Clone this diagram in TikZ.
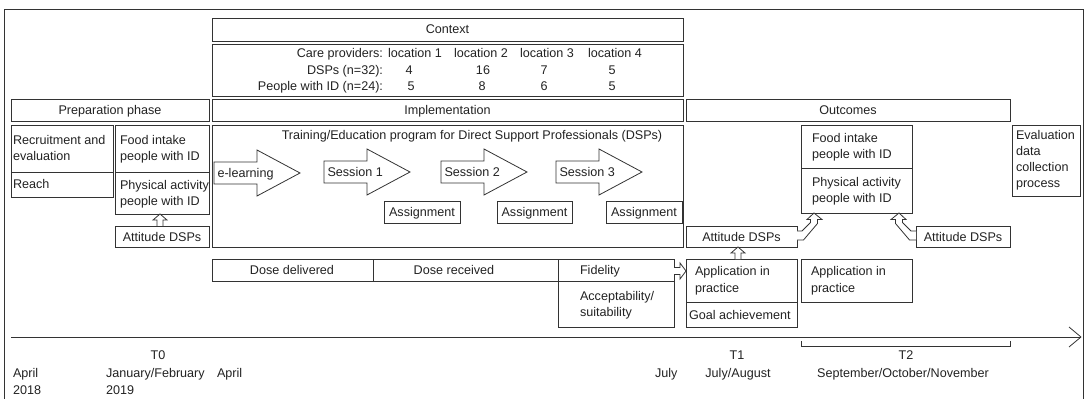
\documentclass[tikz,border=0pt]{standalone}
\usepackage{fontspec}
\setmainfont{Liberation Sans}
\usetikzlibrary{calc}
\definecolor{ln}{HTML}{333333}
\definecolor{tc}{HTML}{222222}
\tikzset{
 rb/.style={draw=ln, line width=0.6pt, rectangle, inner sep=0pt, outer sep=0pt},
 tx/.style={text=tc, inner sep=0pt, outer sep=0pt, font=\fontsize{9.45}{11}\selectfont},
 hol/.style={draw=ln, line width=0.6pt, fill=white, line join=miter},
 tline/.style={draw=ln, line width=0.6pt},
}
\newcommand\mkbox[5]{\node[rb, minimum width={(#4-#2)*0.75pt}, minimum height={(#5-#3)*0.75pt}] (#1) at ({(#2+#4)/2},{(#3+#5)/2}) {};}
\newcommand\txl[4]{\node[tx, anchor=base west] (#1) at (#2,{#3+4.5}) {#4};}
\newcommand\txc[4]{\node[tx, anchor=base] (#1) at (#2,{#3+4.5}) {#4};}
\newcommand\txr[4]{\node[tx, anchor=base east] (#1) at (#2,{#3+4.5}) {#4};}
\newcommand\barrow[4]{%
 \draw[hol] (#2,{#3-11}) -- ++(43,0) -- ++(0,-12) -- ++(43,23) -- ++(-43,23) -- ++(0,-12) -- ++(-43,0) -- cycle;
 \node[tx, anchor=base west] (#1) at ({#2+3.5},{#3+4.5}) {#4};}
\begin{document}
\begin{tikzpicture}[x=0.75pt,y=-0.75pt]
\useasboundingbox (0,0) rectangle (1089,399);
% outer frame
\draw[tline] (4,399) -- (4,9) -- (1083,9) -- (1083,399);

% context
\mkbox{ctx}{212}{18}{683}{41}
\txc{ctxT}{447.5}{29}{Context}
\mkbox{tab}{212}{44}{683}{96}
\txr{r1}{383}{53}{Care providers:}
\txr{r2}{383}{70}{DSPs (n=32):}
\txr{r3}{383}{86}{People with ID (n=24):}
\txc{l1}{415}{53}{location 1}
\txc{l2}{481}{53}{location 2}
\txc{l3}{547}{53}{location 3}
\txc{l4}{615}{53}{location 4}
\txc{d1}{409}{70}{4}
\txc{d2}{483}{70}{16}
\txc{d3}{544}{70}{7}
\txc{d4}{612}{70}{5}
\txc{p1}{411}{86}{5}
\txc{p2}{482}{86}{8}
\txc{p3}{544}{86}{6}
\txc{p4}{612}{86}{5}

% headers
\mkbox{prep}{11}{99}{209}{121}
\txc{prepT}{110}{110}{Preparation phase}
\mkbox{impl}{212}{99}{683}{121}
\txc{implT}{447.5}{110}{Implementation}
\mkbox{outc}{686}{99}{1010}{121}
\txc{outcT}{848}{110}{Outcomes}

% preparation
\mkbox{rec}{11}{125}{113}{172}
\txl{recT1}{13}{140}{Recruitment and}
\txl{recT2}{13}{156}{evaluation}
\mkbox{reach}{11}{172}{113}{197}
\txl{reachT}{13}{184}{Reach}
\mkbox{foodL}{115}{125}{209}{172}
\txl{foodLT1}{120}{140}{Food intake}
\txl{foodLT2}{120}{156}{people with ID}
\mkbox{physL}{115}{172}{209}{214}
\txl{physLT1}{120}{185}{Physical activity}
\txl{physLT2}{120}{201}{people with ID}
\mkbox{attL}{115}{226}{209}{247}
\txc{attLT}{162}{237}{Attitude DSPs}
\draw[hol] ($(attL.north)+(-5,0)$) -- ++(0,-6) -- ++(-4,0) -- ++(7,-6) -- ++(7,6) -- ++(-4,0) -- ++(0,6);

% implementation
\mkbox{prog}{212}{125}{683}{247}
\txc{progT}{472}{135}{Training/Education program for Direct Support Professionals (DSPs)}
\barrow{el}{214}{173}{e-learning}
\barrow{s1}{324}{172}{Session 1}
\barrow{s2}{441}{172}{Session 2}
\barrow{s3}{556}{172}{Session 3}
\mkbox{as1}{384}{201}{460}{223}
\txc{as1T}{422}{212}{Assignment}
\mkbox{as2}{497}{201}{572}{223}
\txc{as2T}{534.5}{212}{Assignment}
\mkbox{as3}{606}{201}{682}{223}
\txc{as3T}{644}{212}{Assignment}

% process evaluation
\mkbox{dd}{212}{259}{373}{281}
\txc{ddT}{292}{270}{Dose delivered}
\mkbox{dr}{373}{259}{558}{281}
\txc{drT}{454}{270}{Dose received}
\mkbox{fid}{558}{259}{674}{281}
\txl{fidT}{580}{270}{Fidelity}
\mkbox{acc}{558}{281}{674}{327}
\txl{accT1}{580}{296}{Acceptability/}
\txl{accT2}{580}{312}{suitability}

% outcomes T1
\mkbox{attA}{686}{226}{797}{247}
\txc{attAT}{741.5}{237}{Attitude DSPs}
\mkbox{appA}{686}{259}{797}{302}
\txl{appAT1}{695}{271}{Application in}
\txl{appAT2}{695}{288}{practice}
\mkbox{goal}{686}{302}{797}{327}
\txl{goalT}{689}{315}{Goal achievement}
\draw[hol] ($(fid.east)+(0,-2.5)$) -- ++(6,0) -- ++(0,-4.5) -- ++(6,8) -- ++(-6,8) -- ++(0,-4.5) -- ++(-6,0);
\draw[hol] ($(appA.north)+(-6.5,0)$) -- ++(0,-6) -- ++(-4,0) -- ++(7,-6) -- ++(7,6) -- ++(-4,0) -- ++(0,6);

% outcomes T2
\mkbox{foodO}{801}{125}{912}{168}
\txl{foodOT1}{812}{138}{Food intake}
\txl{foodOT2}{812}{154}{people with ID}
\mkbox{physO}{801}{168}{912}{213}
\txl{physOT1}{812}{182}{Physical activity}
\txl{physOT2}{812}{198}{people with ID}
\mkbox{appB}{801}{259}{912}{302}
\txl{appBT1}{811}{271}{Application in}
\txl{appBT2}{811}{288}{practice}
\mkbox{attB}{916}{226}{1010}{247}
\txc{attBT}{963}{237}{Attitude DSPs}
\draw[hol] ($(attA.east)+(0,-5.5)$) -- ++(5,0) -- ++(8.5,-8.5) -- ++(0,-3) -- ++(-3.5,0) -- ++(7,-6.5) -- ++(8,6.5) -- ++(-4.5,0) -- ++(0,4) -- ++(-14,16.5) -- ++(-6.5,0);
\draw[hol] ($(attB.west)+(0,-5.5)$) -- ++(-5,0) -- ++(-8.5,-8.5) -- ++(0,-3) -- ++(3.5,0) -- ++(-7,-6.5) -- ++(-8,6.5) -- ++(4.5,0) -- ++(0,4) -- ++(14,16.5) -- ++(6.5,0);

% evaluation
\mkbox{eval}{1012}{125}{1080}{196}
\txl{evT1}{1016}{135}{Evaluation}
\txl{evT2}{1016}{151}{data}
\txl{evT3}{1016}{167}{collection}
\txl{evT4}{1016}{183}{process}

% timeline
\coordinate (tA) at (11,337);
\coordinate (tB) at (1081,337);
\draw[tline] (tA) -- (tB);
\draw[tline] (tB) -- ++(-12,-10);
\draw[tline] (tB) -- ++(-12,10);
\coordinate (b1) at (801,341);
\coordinate (b2) at (1010,341);
\draw[tline] (b1) -- ++(0,5) -| (b2);
\txc{t0}{158}{355}{T0}
\txl{m1}{13}{373}{April}
\txl{y1}{13}{390}{2018}
\txl{m2}{106}{373}{January/February}
\txl{y2}{106}{390}{2019}
\txl{m3}{217}{373}{April}
\txl{m4}{655}{373}{July}
\txc{t1}{737}{355}{T1}
\txc{m5}{738}{373}{July/August}
\txc{t2}{906}{355}{T2}
\txc{m6}{903}{373}{September/October/November}
\end{tikzpicture}
\end{document}
